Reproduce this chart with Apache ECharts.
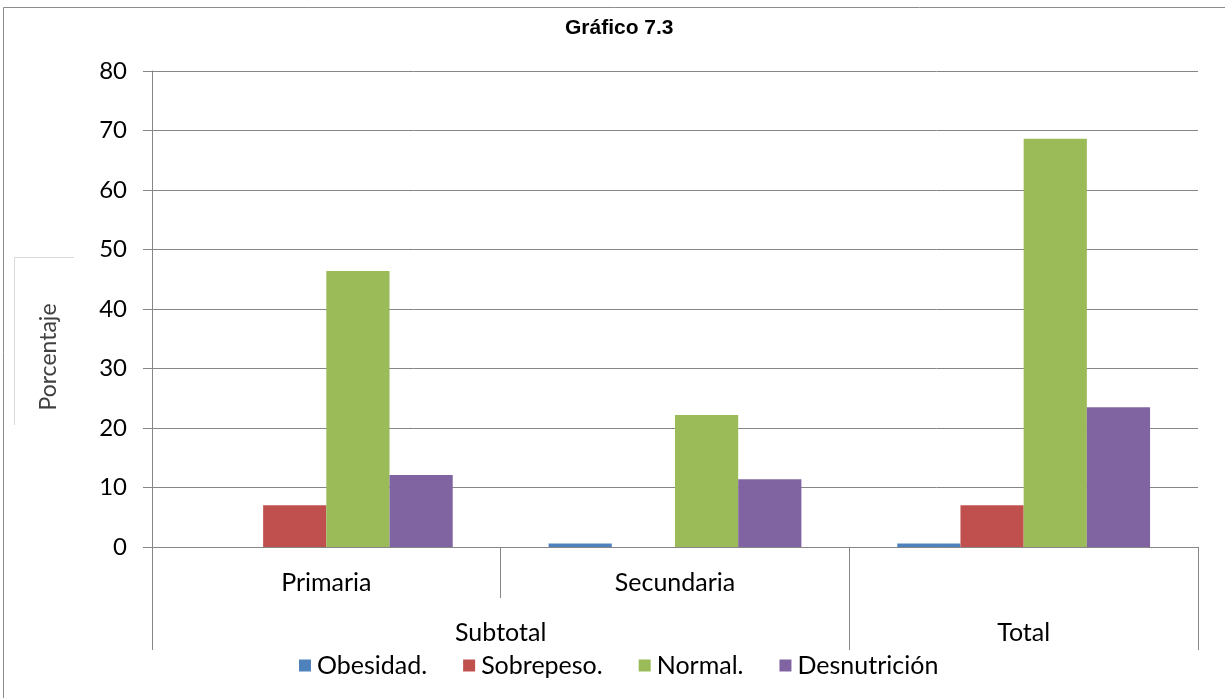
<!DOCTYPE html>
<html>
<head>
<meta charset="utf-8">
<script src="https://cdn.jsdelivr.net/npm/echarts@6/dist/echarts.min.js"></script>
<style>
  html, body { margin: 0; padding: 0; background: #fff; }
  #chart { width: 1225px; height: 698px; }
</style>
</head>
<body>
<div id="chart"></div>
<script>
const categories = ['Primaria', 'Secundaria', '']
const groupLabels = ['Subtotal', 'Total']
const seriesNames = ['Obesidad.', 'Sobrepeso.', 'Normal.', 'Desnutrición']
const obesidad = [0, 0.6, 0.6]
const sobrepeso = [7.0, 0, 7.0]
const normal = [46.4, 22.2, 68.6]
const desnutricion = [12.1, 11.4, 23.5]
const colors = ['#4F81BD', '#C0504D', '#9BBB59', '#8064A2']

const gridColor = '#868686'
const font = 'Lato, "Open Sans", sans-serif'

const myChart = echarts.init(document.getElementById('chart'))

const makeBar = (name, data, i) => ({
  name: name,
  type: 'bar',
  data: data,
  barGap: 0,
  barCategoryGap: '27.5%',
  itemStyle: {
    color: colors[i]
  }
})

const option = {
  animation: false,
  color: colors,
  title: {
    text: 'Gráfico 7.3',
    left: 560,
    top: 13,
    textStyle: {
      fontFamily: 'Arial, "Liberation Sans", sans-serif',
      fontWeight: 'bold',
      fontSize: 21,
      color: '#000'
    }
  },
  legend: {
    top: 648,
    left: 294,
    itemWidth: 12,
    itemHeight: 12,
    itemGap: 36,
    icon: 'rect',
    textStyle: {
      fontFamily: font,
      fontSize: 25,
      color: '#000',
      padding: [0, 0, 0, 1]
    },
    data: seriesNames
  },
  grid: {
    left: 152,
    right: 27,
    top: 71,
    bottom: 151
  },
  xAxis: [
    {
      type: 'category',
      data: categories,
      axisLine: { lineStyle: { color: gridColor, width: 1 } },
      axisTick: { show: true, interval: 0, length: 51, lineStyle: { color: gridColor } },
      axisLabel: {
        interval: 0,
        margin: 23,
        fontFamily: font,
        fontSize: 25,
        color: '#000'
      }
    },
    {
      type: 'value',
      position: 'bottom',
      min: 0,
      max: 3,
      axisLine: { show: false },
      splitLine: { show: false },
      axisTick: {
        show: true,
        customValues: [0, 2, 3],
        length: 103,
        lineStyle: { color: gridColor }
      },
      axisLabel: {
        customValues: [1, 2.5],
        margin: 73,
        fontFamily: font,
        fontSize: 25,
        color: '#000',
        formatter: v => (v === 1 ? groupLabels[0] : groupLabels[1])
      }
    }
  ],
  yAxis: {
    type: 'value',
    min: 0,
    max: 80,
    interval: 10,
    axisLine: { show: true, lineStyle: { color: gridColor, width: 1 } },
    axisTick: { show: true, length: 9, lineStyle: { color: gridColor } },
    splitLine: { lineStyle: { color: gridColor, width: 1 } },
    axisLabel: {
      margin: 25,
      fontFamily: font,
      fontSize: 24,
      color: '#000'
    }
  },
  graphic: [
    // marco del gráfico (solo arriba e izquierda visibles)
    { type: 'line', shape: { x1: 3.5, y1: 7.5, x2: 1225, y2: 7.5 }, style: { stroke: '#8c8c8c', lineWidth: 1 } },
    { type: 'line', shape: { x1: 3.5, y1: 7.5, x2: 3.5, y2: 698 }, style: { stroke: '#8c8c8c', lineWidth: 1 } },
    // recuadro del título del eje
    { type: 'line', shape: { x1: 14.5, y1: 257.5, x2: 74, y2: 257.5 }, style: { stroke: '#d9d9d9', lineWidth: 1 } },
    { type: 'line', shape: { x1: 14.5, y1: 257.5, x2: 14.5, y2: 425 }, style: { stroke: '#d9d9d9', lineWidth: 1 } },
    {
      type: 'text',
      x: 49,
      y: 357,
      rotation: Math.PI / 2,
      style: {
        text: 'Porcentaje',
        fill: '#404040',
        font: '23px Lato, "Open Sans", sans-serif',
        letterSpacing: 1,
        align: 'center',
        verticalAlign: 'middle'
      }
    }
  ],
  series: [
    makeBar(seriesNames[0], obesidad, 0),
    makeBar(seriesNames[1], sobrepeso, 1),
    makeBar(seriesNames[2], normal, 2),
    makeBar(seriesNames[3], desnutricion, 3)
  ]
}

myChart.setOption(option)
</script>
</body>
</html>
